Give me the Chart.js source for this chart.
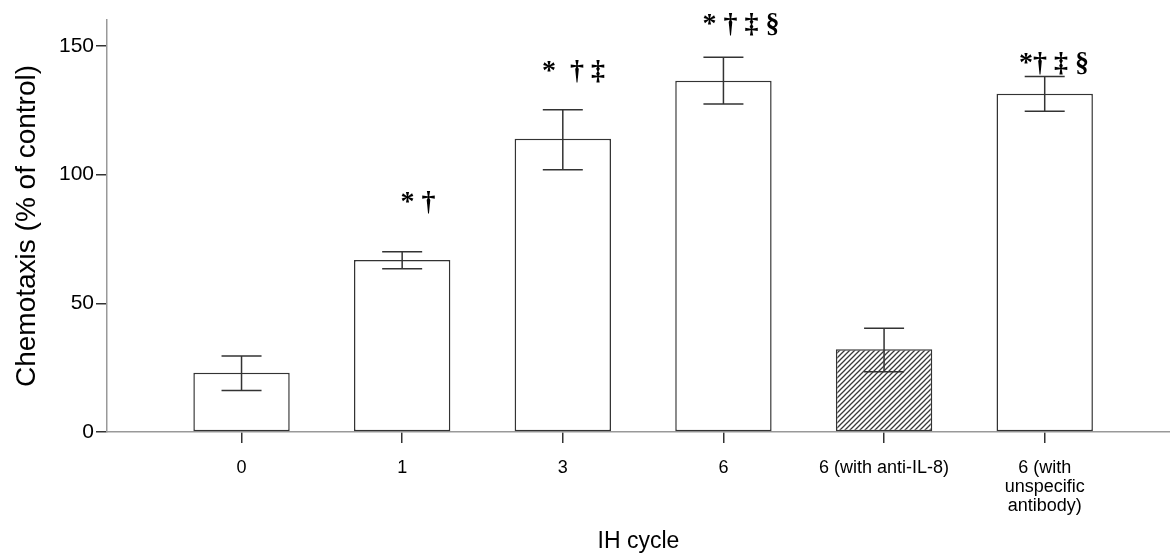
<!DOCTYPE html>
<html>
<head>
<meta charset="utf-8">
<script src="https://cdn.jsdelivr.net/npm/chart.js@4"></script>
<style>
  html, body { margin: 0; padding: 0; background: #fff; }
  #wrap { width: 1170px; height: 557px; }
</style>
</head>
<body>
<div id="wrap"><canvas id="chart_1"></canvas></div>
<script>
// data
const categories = ["0", "1", "3", "6", "6 (with anti-IL-8)", ["6 (with", "unspecific", "antibody)"]];
const means = [23, 66.8, 113.9, 136.4, 32.1, 131.4];
const errHigh = [29.5, 70.0, 125.1, 145.5, 40.3, 138.1];
const errLow = [16.1, 63.4, 101.8, 127.4, 23.4, 124.6];
const yTicks = [0, 50, 100, 150];

// significance marks above bars
const marks = ["", "* †", "*  † ‡", "* † ‡ §", "", "*† ‡ §"];
const markX = [0, 0.99, 1.87, 2.87, 0, 4.84];
const markY = [0, 89, 140, 158, 0, 143];

function hatch() {
  const c = document.createElement("canvas");
  c.width = 5;
  c.height = 5;
  const g = c.getContext("2d");
  g.fillStyle = "#fff";
  g.fillRect(0, 0, 5, 5);
  g.strokeStyle = "#3a3a3a";
  g.lineWidth = 1.3;
  g.beginPath();
  g.moveTo(-1, 6); g.lineTo(6, -1);
  g.moveTo(-1, 1); g.lineTo(1, -1);
  g.moveTo(4, 6); g.lineTo(6, 4);
  g.stroke();
  return g.createPattern(c, "repeat");
}

const errorBars = {
  id: "errorBars",
  afterDatasetsDraw(chart) {
    const ctx = chart.ctx;
    const xs = chart.scales.x;
    const ys = chart.scales.y;
    ctx.save();
    ctx.strokeStyle = "#333";
    ctx.lineWidth = 1.5;
    for (let i = 0; i < means.length; i++) {
      const x = xs.getPixelForValue(i);
      const hi = ys.getPixelForValue(errHigh[i]);
      const lo = ys.getPixelForValue(errLow[i]);
      ctx.beginPath();
      ctx.moveTo(x, hi); ctx.lineTo(x, lo);
      ctx.moveTo(x - 20, hi); ctx.lineTo(x + 20, hi);
      ctx.moveTo(x - 20, lo); ctx.lineTo(x + 20, lo);
      ctx.stroke();
    }
    ctx.fillStyle = "#000";
    ctx.font = "bold 28px 'Liberation Serif', 'DejaVu Serif', serif";
    ctx.textAlign = "left";
    ctx.textBaseline = "middle";
    for (let i = 0; i < marks.length; i++) {
      if (!marks[i]) continue;
      ctx.fillText(marks[i], xs.getPixelForValue(markX[i]), ys.getPixelForValue(markY[i]));
    }
    ctx.restore();
  },
};

const ctx = document.getElementById("chart_1").getContext("2d");

new Chart(ctx, {
  type: "bar",
  data: {
    datasets: [
      {
        data: means.map((v, i) => ({ x: i, y: v })),
        backgroundColor: means.map((v, i) => (i === 4 ? hatch() : "#ffffff")),
        borderColor: "#333",
        borderWidth: 1.5,
        borderSkipped: false,
        categoryPercentage: 0.6,
        barPercentage: 1,
      },
    ],
  },
  options: {
    responsive: true,
    maintainAspectRatio: false,
    animation: false,
    layout: { padding: { top: 20, right: 0, left: 0, bottom: 0 } },
    scales: {
      x: {
        type: "linear",
        min: -0.8375,
        max: 5.78,
        offset: false,
        afterBuildTicks: (scale) => {
          scale.ticks = categories.map((c, i) => ({ value: i }));
        },
        afterFit: (scale) => {
          scale.height = 125;
        },
        grid: {
          offset: false,
          drawOnChartArea: false,
          drawTicks: true,
          tickLength: 11,
          color: "#333",
          lineWidth: 1.5,
        },
        border: { display: true, color: "#999", width: 1.5 },
        ticks: {
          autoSkip: false,
          maxRotation: 0,
          padding: 16,
          color: "#000",
          font: { family: "'Liberation Sans', Arial, sans-serif", size: 18, lineHeight: 1.05 },
          callback: (value) => categories[value],
        },
        title: {
          display: true,
          text: "IH cycle",
          color: "#000",
          padding: { top: 16, bottom: 2 },
          font: { family: "'Liberation Sans', Arial, sans-serif", size: 23 },
        },
      },
      y: {
        min: 0,
        max: 160,
        afterBuildTicks: (scale) => {
          scale.ticks = yTicks.map((v) => ({ value: v }));
        },
        afterFit: (scale) => {
          scale.width = 107;
        },
        grid: {
          drawOnChartArea: false,
          drawTicks: true,
          tickLength: 11,
          color: "#333",
          lineWidth: 1.5,
        },
        border: { display: true, color: "#999", width: 1.5 },
        ticks: {
          padding: 2,
          color: "#000",
          font: { family: "'Liberation Sans', Arial, sans-serif", size: 21 },
        },
        title: {
          display: true,
          text: "Chemotaxis (% of control)",
          color: "#000",
          padding: { top: 10, bottom: 8 },
          font: { family: "'Liberation Sans', Arial, sans-serif", size: 28 },
        },
      },
    },
    plugins: {
      legend: { display: false },
      tooltip: { enabled: false },
    },
  },
  plugins: [errorBars],
});
</script>
</body>
</html>
